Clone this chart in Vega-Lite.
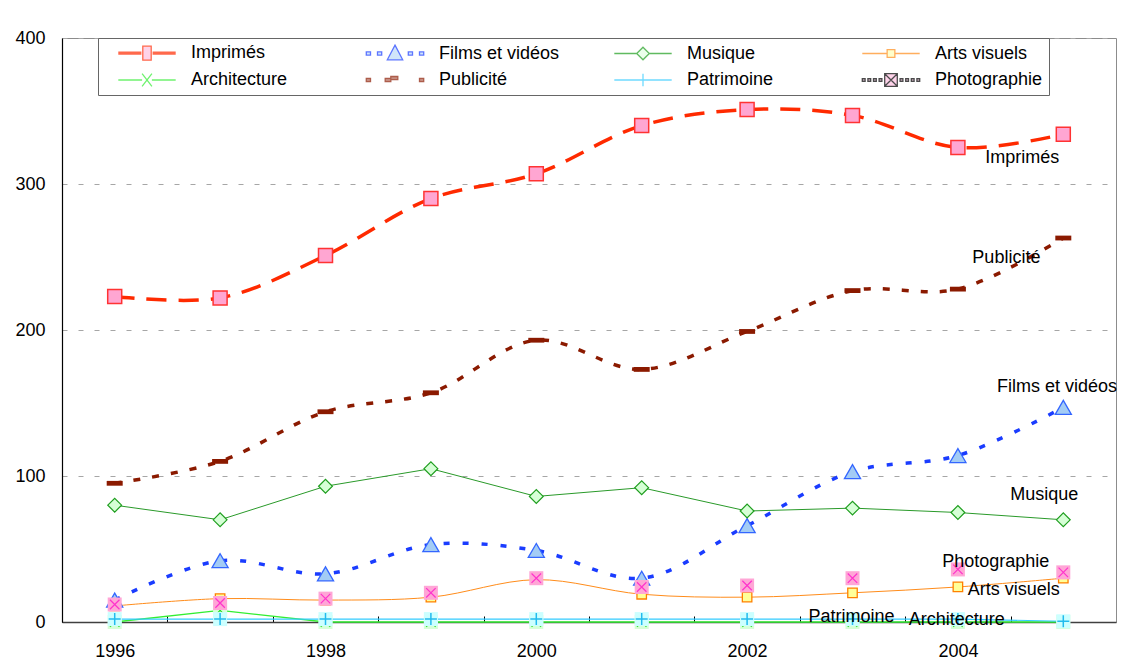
{
  "$schema": "https://vega.github.io/schema/vega-lite/v6.json",
  "width": 1054,
  "height": 584,
  "autosize": {"type": "none"},
  "padding": {"left": 62, "top": 38, "right": 14, "bottom": 49},
  "background": "white",
  "config": {"font": "Liberation Sans", "view": {"stroke": "#8c8c8c", "strokeWidth": 1}},
  "data": {"values": [
    {"series": "Imprimés", "year": 1996, "value": 223},
    {"series": "Imprimés", "year": 1997, "value": 222},
    {"series": "Imprimés", "year": 1998, "value": 251},
    {"series": "Imprimés", "year": 1999, "value": 290},
    {"series": "Imprimés", "year": 2000, "value": 307},
    {"series": "Imprimés", "year": 2001, "value": 340},
    {"series": "Imprimés", "year": 2002, "value": 351},
    {"series": "Imprimés", "year": 2003, "value": 347},
    {"series": "Imprimés", "year": 2004, "value": 325},
    {"series": "Imprimés", "year": 2005, "value": 334},
    {"series": "Films et vidéos", "year": 1996, "value": 15},
    {"series": "Films et vidéos", "year": 1997, "value": 42},
    {"series": "Films et vidéos", "year": 1998, "value": 33},
    {"series": "Films et vidéos", "year": 1999, "value": 53},
    {"series": "Films et vidéos", "year": 2000, "value": 49},
    {"series": "Films et vidéos", "year": 2001, "value": 30},
    {"series": "Films et vidéos", "year": 2002, "value": 66},
    {"series": "Films et vidéos", "year": 2003, "value": 103},
    {"series": "Films et vidéos", "year": 2004, "value": 114},
    {"series": "Films et vidéos", "year": 2005, "value": 147},
    {"series": "Musique", "year": 1996, "value": 80},
    {"series": "Musique", "year": 1997, "value": 70},
    {"series": "Musique", "year": 1998, "value": 93},
    {"series": "Musique", "year": 1999, "value": 105},
    {"series": "Musique", "year": 2000, "value": 86},
    {"series": "Musique", "year": 2001, "value": 92},
    {"series": "Musique", "year": 2002, "value": 76},
    {"series": "Musique", "year": 2003, "value": 78},
    {"series": "Musique", "year": 2004, "value": 75},
    {"series": "Musique", "year": 2005, "value": 70},
    {"series": "Arts visuels", "year": 1996, "value": 11},
    {"series": "Arts visuels", "year": 1997, "value": 16},
    {"series": "Arts visuels", "year": 1998, "value": 15},
    {"series": "Arts visuels", "year": 1999, "value": 17},
    {"series": "Arts visuels", "year": 2000, "value": 29},
    {"series": "Arts visuels", "year": 2001, "value": 19},
    {"series": "Arts visuels", "year": 2002, "value": 17},
    {"series": "Arts visuels", "year": 2003, "value": 20},
    {"series": "Arts visuels", "year": 2004, "value": 24},
    {"series": "Arts visuels", "year": 2005, "value": 30},
    {"series": "Architecture", "year": 1996, "value": 0},
    {"series": "Architecture", "year": 1997, "value": 8},
    {"series": "Architecture", "year": 1998, "value": 0},
    {"series": "Architecture", "year": 1999, "value": 0},
    {"series": "Architecture", "year": 2000, "value": 0},
    {"series": "Architecture", "year": 2001, "value": 0},
    {"series": "Architecture", "year": 2002, "value": 0},
    {"series": "Architecture", "year": 2003, "value": 0},
    {"series": "Architecture", "year": 2004, "value": 0},
    {"series": "Architecture", "year": 2005, "value": 0},
    {"series": "Publicité", "year": 1996, "value": 95},
    {"series": "Publicité", "year": 1997, "value": 110},
    {"series": "Publicité", "year": 1998, "value": 144},
    {"series": "Publicité", "year": 1999, "value": 157},
    {"series": "Publicité", "year": 2000, "value": 193},
    {"series": "Publicité", "year": 2001, "value": 173},
    {"series": "Publicité", "year": 2002, "value": 199},
    {"series": "Publicité", "year": 2003, "value": 227},
    {"series": "Publicité", "year": 2004, "value": 228},
    {"series": "Publicité", "year": 2005, "value": 263},
    {"series": "Patrimoine", "year": 1996, "value": 2},
    {"series": "Patrimoine", "year": 1997, "value": 2},
    {"series": "Patrimoine", "year": 1998, "value": 2},
    {"series": "Patrimoine", "year": 1999, "value": 2},
    {"series": "Patrimoine", "year": 2000, "value": 2},
    {"series": "Patrimoine", "year": 2001, "value": 2},
    {"series": "Patrimoine", "year": 2002, "value": 2},
    {"series": "Patrimoine", "year": 2003, "value": 2},
    {"series": "Patrimoine", "year": 2004, "value": 2},
    {"series": "Patrimoine", "year": 2005, "value": 0.5},
    {"series": "Photographie", "year": 1996, "value": 12},
    {"series": "Photographie", "year": 1997, "value": 13},
    {"series": "Photographie", "year": 1998, "value": 16},
    {"series": "Photographie", "year": 1999, "value": 20},
    {"series": "Photographie", "year": 2000, "value": 30},
    {"series": "Photographie", "year": 2001, "value": 24},
    {"series": "Photographie", "year": 2002, "value": 25},
    {"series": "Photographie", "year": 2003, "value": 30},
    {"series": "Photographie", "year": 2004, "value": 36},
    {"series": "Photographie", "year": 2005, "value": 34}
  ]},
  "encoding": {
    "x": {
      "field": "year", "type": "quantitative",
      "scale": {"domain": [1995.5, 2005.5], "nice": false, "zero": false},
      "axis": {
        "values": [1995.5, 1996.5, 1997.5, 1998.5, 1999.5, 2000.5, 2001.5, 2002.5, 2003.5, 2004.5],
        "labelExpr": "(datum.value + 0.5) % 2 == 0 ? format(datum.value + 0.5, 'd') : ''",
        "labelOffset": 52.7, "labelFlush": false, "labelOverlap": false,
        "tickSize": -6, "tickColor": "#000000", "tickWidth": 1,
        "domainColor": "#404040", "domainWidth": 1.5,
        "grid": false, "title": null,
        "labelFontSize": 18, "labelColor": "#000000", "labelFont": "Liberation Sans", "labelPadding": 26
      }
    },
    "y": {
      "field": "value", "type": "quantitative",
      "scale": {"domain": [0, 400], "nice": false},
      "axis": {
        "values": [0, 100, 200, 300, 400], "format": "d",
        "grid": true, "gridDash": [5, 11], "gridColor": "#a6a6a6",
        "tickSize": 0, "domainColor": "#000000", "domainWidth": 1.2,
        "labelPadding": 17, "labelFontSize": 18, "labelColor": "#000000", "labelFont": "Liberation Sans",
        "title": null
      }
    }
  },
  "layer": [
    {
      "mark": {"type": "point", "filled": true, "size": 1, "strokeWidth": 1.3},
      "encoding": {
        "shape": {"field": "series", "type": "nominal",
          "scale": {"domain": ["Imprimés", "Films et vidéos", "Musique", "Arts visuels", "Architecture", "Publicité", "Patrimoine", "Photographie"],
            "range": [
              "M-4.1,-0.14H-0.8M-4.1,0H-0.8M-4.1,0.14H-0.8M0.8,-0.14H4.1M0.8,0H4.1M0.8,0.14H4.1M-0.6,-1H0.6V1H-0.6Z",
              "M-4.1,-0.22H-3.5V0.22H-4.1ZM-2.5,-0.22H-1.9V0.22H-2.5ZM1.9,-0.22H2.5V0.22H1.9ZM3.5,-0.22H4.1V0.22H3.5ZM0,-1.2L1.1,0.9H-1.1Z",
              "M-4.1,0H-0.9M0.9,0H4.1M0,-0.9L0.9,0L0,0.9L-0.9,0Z",
              "M-4.1,0H-0.55M0.55,0H4.1M-0.55,-0.55H0.55V0.55H-0.55Z",
              "M-4.1,0H-0.7M0.7,0H4.1M-0.7,-0.9L0.7,0.9M0.7,-0.9L-0.7,0.9",
              "M-4.1,-0.22H-3.5V0.22H-4.1ZM-1.4,-0.22H-0.6V0.22H-1.4ZM-0.6,-0.5H0.4V-0.06H-0.6ZM3.5,-0.22H4.1V0.22H3.5Z",
              "M-4.1,0H4.1M0,-0.9V0.9",
              "M-4.1,-0.18H-3.7V0.18H-4.1ZM-3.3,-0.18H-2.9V0.18H-3.3ZM-2.5,-0.18H-2.1V0.18H-2.5ZM-1.7,-0.18H-1.3V0.18H-1.7ZM1.3,-0.18H1.7V0.18H1.3ZM2.1,-0.18H2.5V0.18H2.1ZM2.9,-0.18H3.3V0.18H2.9ZM3.7,-0.18H4.1V0.18H3.7ZM-0.9,-0.9H0.9V0.9H-0.9ZM-0.9,-0.9L0.9,0.9M0.9,-0.9L-0.9,0.9"
            ]},
          "legend": {"title": null, "orient": "none", "legendX": 36, "legendY": 0, "direction": "horizontal", "columns": 4, "gridAlign": "all",
            "columnPadding": 40, "rowPadding": 8, "padding": 6, "fillColor": "#ffffff", "strokeColor": "#666666",
            "symbolSize": 196, "symbolOffset": 34, "labelOffset": 35, "labelFontSize": 18, "labelFont": "Liberation Sans",
            "labelColor": "#000000", "labelLimit": 300, "symbolStrokeWidth": 1.3}},
        "fill": {"field": "series", "type": "nominal",
          "scale": {"domain": ["Imprimés", "Films et vidéos", "Musique", "Arts visuels", "Architecture", "Publicité", "Patrimoine", "Photographie"],
            "range": ["#FFA6D2", "#A3CCF5", "#D6FFD6", "#FFFF99", "#D6FFD6", "#8B1A00", "#CCFFFF", "#FFA6D6"]},
          "legend": {"title": null, "orient": "none", "legendX": 36, "legendY": 0, "direction": "horizontal", "columns": 4, "gridAlign": "all",
            "columnPadding": 40, "rowPadding": 8, "padding": 6, "fillColor": "#ffffff", "strokeColor": "#666666",
            "symbolSize": 196, "symbolOffset": 34, "labelOffset": 35, "labelFontSize": 18, "labelFont": "Liberation Sans",
            "labelColor": "#000000", "labelLimit": 300, "symbolStrokeWidth": 1.3}},
        "stroke": {"field": "series", "type": "nominal",
          "scale": {"domain": ["Imprimés", "Films et vidéos", "Musique", "Arts visuels", "Architecture", "Publicité", "Patrimoine", "Photographie"],
            "range": ["#FF2A00", "#1A3CFF", "#1E9E1E", "#FF8C1A", "#33EE33", "#8B1A00", "#33CCFF", "#000000"]},
          "legend": {"title": null, "orient": "none", "legendX": 36, "legendY": 0, "direction": "horizontal", "columns": 4, "gridAlign": "all",
            "columnPadding": 40, "rowPadding": 8, "padding": 6, "fillColor": "#ffffff", "strokeColor": "#666666",
            "symbolSize": 196, "symbolOffset": 34, "labelOffset": 35, "labelFontSize": 18, "labelFont": "Liberation Sans",
            "labelColor": "#000000", "labelLimit": 300, "symbolStrokeWidth": 1.3}}
      }
    },
    {
      "transform": [{"filter": "datum.series == 'Imprimés'"}],
      "mark": {"type": "line", "interpolate": "catmull-rom", "stroke": "#FF2A00", "strokeWidth": 3.5, "strokeDash": [20, 12]}
    },
    {
      "transform": [{"filter": "datum.series == 'Films et vidéos'"}],
      "mark": {"type": "line", "interpolate": "catmull-rom", "stroke": "#1A3CFF", "strokeWidth": 3.5, "strokeDash": [6, 13]}
    },
    {
      "transform": [{"filter": "datum.series == 'Musique'"}],
      "mark": {"type": "line", "stroke": "#2A9A2A", "strokeWidth": 1}
    },
    {
      "transform": [{"filter": "datum.series == 'Arts visuels'"}],
      "mark": {"type": "line", "interpolate": "catmull-rom", "stroke": "#FF8C1A", "strokeWidth": 1}
    },
    {
      "transform": [{"filter": "datum.series == 'Architecture'"}],
      "mark": {"type": "line", "stroke": "#33EE33", "strokeWidth": 1.3}
    },
    {
      "transform": [{"filter": "datum.series == 'Publicité'"}],
      "mark": {"type": "line", "interpolate": "catmull-rom", "stroke": "#8B1A00", "strokeWidth": 3.5, "strokeDash": [7, 12]}
    },
    {
      "transform": [{"filter": "datum.series == 'Patrimoine'"}],
      "mark": {"type": "line", "stroke": "#33CCFF", "strokeWidth": 1.1}
    },
    {
      "transform": [{"filter": "datum.series == 'Imprimés'"}],
      "mark": {"type": "point", "shape": "square", "size": 196, "filled": true, "fill": "#FFA6D2", "stroke": "#FF3333", "strokeWidth": 1.5, "opacity": 1}
    },
    {
      "transform": [{"filter": "datum.series == 'Films et vidéos'"}],
      "mark": {"type": "point", "shape": "triangle-up", "size": 260, "filled": true, "fill": "#A3CCF5", "stroke": "#3366FF", "strokeWidth": 1.3, "opacity": 1}
    },
    {
      "transform": [{"filter": "datum.series == 'Musique'"}],
      "mark": {"type": "point", "shape": "diamond", "size": 190, "filled": true, "fill": "#D6FFD6", "stroke": "#1E9E1E", "strokeWidth": 1.2, "opacity": 1}
    },
    {
      "transform": [{"filter": "datum.series == 'Arts visuels'"}],
      "mark": {"type": "point", "shape": "square", "size": 90, "filled": true, "fill": "#FFFF99", "stroke": "#FF8000", "strokeWidth": 1.3, "opacity": 1}
    },
    {
      "transform": [{"filter": "datum.series == 'Architecture'"}],
      "mark": {"type": "point", "shape": "square", "size": 196, "filled": true, "fill": "#D6FFD6", "strokeWidth": 0, "opacity": 1}
    },
    {
      "transform": [{"filter": "datum.series == 'Architecture'"}],
      "mark": {"type": "point", "shape": "M-1,-1L1,1M1,-1L-1,1", "size": 90, "filled": false, "stroke": "#22DD22", "strokeWidth": 1.2, "opacity": 1}
    },
    {
      "transform": [{"filter": "datum.series == 'Publicité'"}],
      "mark": {"type": "point", "shape": "M-1,-0.3H1V0.3H-1Z", "size": 256, "filled": true, "fill": "#8B1A00", "strokeWidth": 0, "opacity": 1}
    },
    {
      "transform": [{"filter": "datum.series == 'Patrimoine'"}],
      "mark": {"type": "point", "shape": "square", "size": 196, "filled": true, "fill": "#CCFFFF", "strokeWidth": 0, "opacity": 1}
    },
    {
      "transform": [{"filter": "datum.series == 'Patrimoine'"}],
      "mark": {"type": "point", "shape": "M-1,0H1M0,-1V1", "size": 144, "filled": false, "stroke": "#22BBEE", "strokeWidth": 1.5, "opacity": 1}
    },
    {
      "transform": [{"filter": "datum.series == 'Photographie'"}],
      "mark": {"type": "point", "shape": "square", "size": 196, "filled": true, "fill": "#FFA6D6", "strokeWidth": 0, "opacity": 1}
    },
    {
      "transform": [{"filter": "datum.series == 'Photographie'"}],
      "mark": {"type": "point", "shape": "M-1,-1L1,1M1,-1L-1,1", "size": 90, "filled": false, "stroke": "#FF33CC", "strokeWidth": 1.2, "opacity": 1}
    },
    {
      "data": {"values": [
        {"label": "Imprimés", "year": 2004.61, "value": 318},
        {"label": "Publicité", "year": 2004.46, "value": 249},
        {"label": "Films et vidéos", "year": 2004.94, "value": 161},
        {"label": "Musique", "year": 2004.82, "value": 87},
        {"label": "Photographie", "year": 2004.36, "value": 41},
        {"label": "Arts visuels", "year": 2004.53, "value": 22},
        {"label": "Patrimoine", "year": 2002.99, "value": 3.4},
        {"label": "Architecture", "year": 2003.99, "value": 1.4}
      ]},
      "mark": {"type": "text", "fontSize": 18, "font": "Liberation Sans", "color": "#000000", "align": "center", "baseline": "middle"},
      "encoding": {"text": {"field": "label", "type": "nominal"}}
    }
  ]
}
